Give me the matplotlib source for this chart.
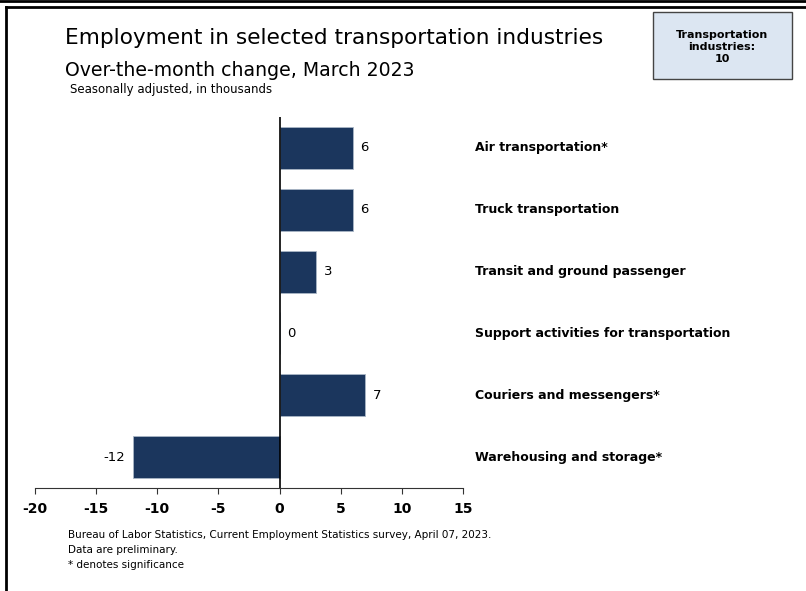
import matplotlib.pyplot as plt
from matplotlib.lines import Line2D
from matplotlib.patches import Rectangle

plt.rcParams['font.family'] = ['DejaVu Sans']

# over-the-month change, thousands (top to bottom)
industries = ['Air transportation*', 'Truck transportation', 'Transit and ground passenger',
              'Support activities for transportation', 'Couriers and messengers*',
              'Warehousing and storage*']
changes = [6, 6, 3, 0, 7, -12]
xticks = [-20, -15, -10, -5, 0, 5, 10, 15]

bar_color = '#1b365d'

fig = plt.figure(figsize=(8.06, 5.91), dpi=100)
ax = fig.add_axes([35 / 806, 103 / 591, 428 / 806, 371 / 591])

ypos = list(range(len(industries)))
ax.barh(ypos, changes, height=0.68, color=bar_color, edgecolor='#a9b6c6', linewidth=0.6)
ax.set_ylim(len(industries) - 0.5, -0.5)
ax.set_xlim(-20, 15)
ax.axvline(0, color='black', lw=1.2)

for y, v, name in zip(ypos, changes, industries):
    if v < 0:
        ax.text(v - 0.6, y, str(v), ha='right', va='center', fontsize=9.5)
    else:
        ax.text(v + 0.6, y, str(v), ha='left', va='center', fontsize=9.5)
    ax.text(16, y, name, ha='left', va='center', fontsize=9, fontweight='bold',
            clip_on=False)

for side in ['top', 'right', 'left']:
    ax.spines[side].set_visible(False)
ax.spines['bottom'].set_color('#333333')
ax.set_yticks([])
ax.set_xticks(xticks)
ax.set_xticklabels([str(t) for t in xticks], fontweight='bold', fontsize=10)
ax.tick_params(axis='x', length=4, color='#333333', pad=6)

# titles
fig.text(65 / 806, 1 - 38 / 591, 'Employment in selected transportation industries',
         fontsize=15.6, va='center', ha='left')
fig.text(65 / 806, 1 - 71 / 591, 'Over-the-month change, March 2023',
         fontsize=13.6, va='center', ha='left')
fig.text(70 / 806, 1 - 90 / 591, 'Seasonally adjusted, in thousands',
         fontsize=8.5, va='center', ha='left')

# count box
fig.patches.append(Rectangle((653 / 806, 1 - 79 / 591), 139 / 806, 67 / 591,
                             transform=fig.transFigure, facecolor='#dce6f2',
                             edgecolor='#444444', lw=1))
fig.text(722 / 806, 1 - 47 / 591, 'Transportation\nindustries:\n10', ha='center',
         va='center', fontsize=8, fontweight='bold', linespacing=1.25)

# notes
notes = ['Bureau of Labor Statistics, Current Employment Statistics survey, April 07, 2023.',
         'Data are preliminary.', '* denotes significance']
for i, line in enumerate(notes):
    fig.text(68 / 806, 1 - (535 + 15 * i) / 591, line, fontsize=7.45, va='center', ha='left')

# frame lines
fig.add_artist(Line2D([0, 1], [1 - 1.2 / 591] * 2, transform=fig.transFigure,
                      color='black', lw=2))
fig.add_artist(Line2D([6 / 806, 1], [1 - 6.5 / 591] * 2, transform=fig.transFigure,
                      color='black', lw=2))
fig.add_artist(Line2D([6 / 806] * 2, [0, 1 - 6.5 / 591], transform=fig.transFigure,
                      color='black', lw=2))

fig.savefig('out.png', dpi=100)
